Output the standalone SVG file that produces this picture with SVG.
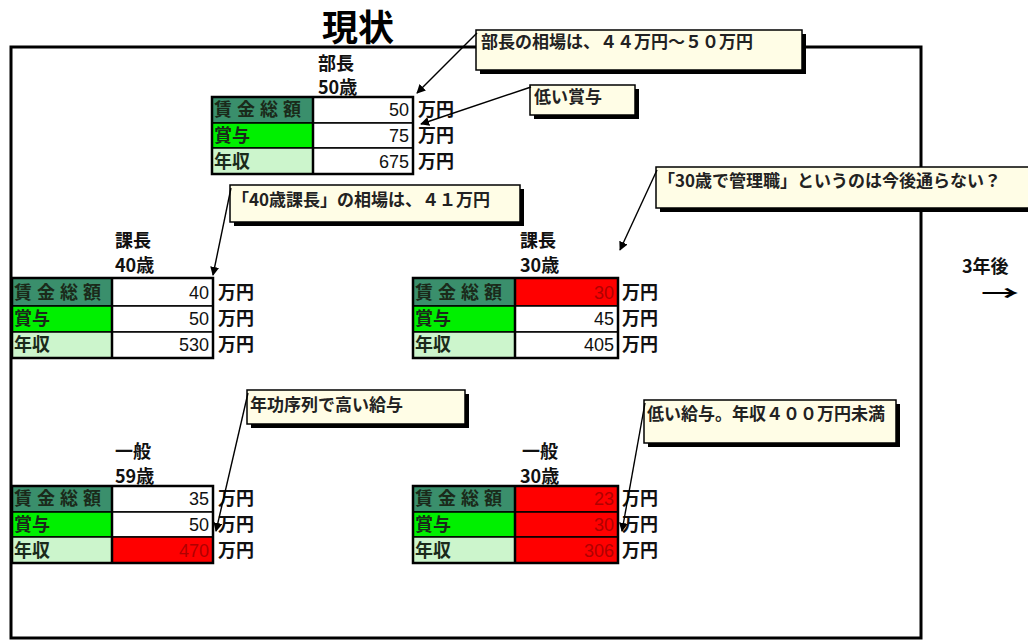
<svg xmlns="http://www.w3.org/2000/svg" width="1028" height="641" viewBox="0 0 1028 641">
<style>
.jp{font-family:"Noto Sans CJK JP","Noto Sans",sans-serif;}
.ttl{font-size:36px;font-weight:bold;fill:#000;}
.hd{font-size:18px;font-weight:bold;fill:#111;}
.lbl{font-size:18px;font-weight:bold;fill:#1a2a1a;}
.sp{letter-spacing:5px;}
.num{font-family:"Liberation Sans",Arial,sans-serif;font-size:18px;fill:#111;text-anchor:end;}
.numr{font-family:"Liberation Sans",Arial,sans-serif;font-size:18px;fill:#b00000;text-anchor:end;}
.unit{font-size:18px;font-weight:bold;fill:#111;}
.cl{font-size:17px;font-weight:bold;fill:#222;}
.c1{fill:#3a8f6c;}
.c2{fill:#00f000;}
.c3{fill:#ccf5cc;}
.cw{fill:#fff;}
.cr{fill:#ff0000;}
.cell{stroke:#000;stroke-width:1.5;}
.outer{fill:none;stroke:#000;stroke-width:2.5;}
.box{fill:#fffde6;stroke:#000;stroke-width:1.5;}
.shadow{fill:#000;}
.ptr{stroke:#000;stroke-width:1.4;fill:none;marker-end:url(#ah);}
</style>
<defs>
<marker id="ah" viewBox="0 0 10 10" refX="9" refY="5" markerWidth="9" markerHeight="9" markerUnits="userSpaceOnUse" orient="auto">
<path d="M0,0 L10,5 L0,10 z" fill="#000"/>
</marker>
</defs>
<rect width="1028" height="641" fill="#fff"/>
<g id="title"><text class="jp ttl" x="322" y="41">現状</text></g>
<g id="frame"><rect x="11" y="47" width="910" height="591" fill="#fff" stroke="#000" stroke-width="3"/></g>

<g id="node-bucho50">
<text class="jp hd" x="318" y="70">部長</text>
<text class="jp hd" x="318" y="94">50歳</text>
<rect class="cell c1" x="212" y="97" width="101" height="26"/>
<rect class="cell cw" x="313" y="97" width="100" height="26"/>
<rect class="cell c2" x="212" y="123" width="101" height="25"/>
<rect class="cell cw" x="313" y="123" width="100" height="25"/>
<rect class="cell c3" x="212" y="148" width="101" height="26"/>
<rect class="cell cw" x="313" y="148" width="100" height="26"/>
<rect class="outer" x="212" y="97" width="201" height="77"/>
<line x1="313" y1="97" x2="313" y2="174" stroke="#000" stroke-width="2.5"/>
<text class="jp lbl sp" x="214" y="116">賃金総額</text>
<text class="jp lbl" x="214" y="142">賞与</text>
<text class="jp lbl" x="214" y="168">年収</text>
<text class="num" x="409" y="116">50</text>
<text class="num" x="409" y="142">75</text>
<text class="num" x="409" y="168">675</text>
<text class="jp unit" x="418" y="116">万円</text>
<text class="jp unit" x="418" y="142">万円</text>
<text class="jp unit" x="418" y="168">万円</text>
</g>

<g id="node-kacho40">
<text class="jp hd" x="115" y="247">課長</text>
<text class="jp hd" x="115" y="272">40歳</text>
<rect class="cell c1" x="12" y="278" width="100" height="28"/>
<rect class="cell cw" x="112" y="278" width="101" height="28"/>
<rect class="cell c2" x="12" y="306" width="100" height="26"/>
<rect class="cell cw" x="112" y="306" width="101" height="26"/>
<rect class="cell c3" x="12" y="332" width="100" height="26"/>
<rect class="cell cw" x="112" y="332" width="101" height="26"/>
<rect class="outer" x="12" y="278" width="201" height="80"/>
<line x1="112" y1="278" x2="112" y2="358" stroke="#000" stroke-width="2.5"/>
<text class="jp lbl sp" x="14" y="299">賃金総額</text>
<text class="jp lbl" x="14" y="325">賞与</text>
<text class="jp lbl" x="14" y="351">年収</text>
<text class="num" x="209" y="299">40</text>
<text class="num" x="209" y="325">50</text>
<text class="num" x="209" y="351">530</text>
<text class="jp unit" x="218" y="299">万円</text>
<text class="jp unit" x="218" y="325">万円</text>
<text class="jp unit" x="218" y="351">万円</text>
</g>

<g id="node-kacho30">
<text class="jp hd" x="520" y="247">課長</text>
<text class="jp hd" x="520" y="272">30歳</text>
<rect class="cell c1" x="413" y="278" width="102" height="28"/>
<rect class="cell cr" x="515" y="278" width="103" height="28"/>
<rect class="cell c2" x="413" y="306" width="102" height="26"/>
<rect class="cell cw" x="515" y="306" width="103" height="26"/>
<rect class="cell c3" x="413" y="332" width="102" height="26"/>
<rect class="cell cw" x="515" y="332" width="103" height="26"/>
<rect class="outer" x="413" y="278" width="205" height="80"/>
<line x1="515" y1="278" x2="515" y2="358" stroke="#000" stroke-width="2.5"/>
<text class="jp lbl sp" x="415" y="299">賃金総額</text>
<text class="jp lbl" x="415" y="325">賞与</text>
<text class="jp lbl" x="415" y="351">年収</text>
<text class="numr" x="614" y="299">30</text>
<text class="num" x="614" y="325">45</text>
<text class="num" x="614" y="351">405</text>
<text class="jp unit" x="622" y="299">万円</text>
<text class="jp unit" x="622" y="325">万円</text>
<text class="jp unit" x="622" y="351">万円</text>
</g>

<g id="node-ippan59">
<text class="jp hd" x="115" y="458">一般</text>
<text class="jp hd" x="115" y="483">59歳</text>
<rect class="cell c1" x="12" y="486" width="100" height="26"/>
<rect class="cell cw" x="112" y="486" width="101" height="26"/>
<rect class="cell c2" x="12" y="512" width="100" height="25"/>
<rect class="cell cw" x="112" y="512" width="101" height="25"/>
<rect class="cell c3" x="12" y="537" width="100" height="26"/>
<rect class="cell cr" x="112" y="537" width="101" height="26"/>
<rect class="outer" x="12" y="486" width="201" height="77"/>
<line x1="112" y1="486" x2="112" y2="563" stroke="#000" stroke-width="2.5"/>
<text class="jp lbl sp" x="14" y="505">賃金総額</text>
<text class="jp lbl" x="14" y="531">賞与</text>
<text class="jp lbl" x="14" y="557">年収</text>
<text class="num" x="209" y="505">35</text>
<text class="num" x="209" y="531">50</text>
<text class="numr" x="209" y="557">470</text>
<text class="jp unit" x="218" y="505">万円</text>
<text class="jp unit" x="218" y="531">万円</text>
<text class="jp unit" x="218" y="557">万円</text>
</g>

<g id="node-ippan30">
<text class="jp hd" x="522" y="458">一般</text>
<text class="jp hd" x="520" y="483">30歳</text>
<rect class="cell c1" x="413" y="486" width="102" height="26"/>
<rect class="cell cr" x="515" y="486" width="103" height="26"/>
<rect class="cell c2" x="413" y="512" width="102" height="25"/>
<rect class="cell cr" x="515" y="512" width="103" height="25"/>
<rect class="cell c3" x="413" y="537" width="102" height="26"/>
<rect class="cell cr" x="515" y="537" width="103" height="26"/>
<rect class="outer" x="413" y="486" width="205" height="77"/>
<line x1="515" y1="486" x2="515" y2="563" stroke="#000" stroke-width="2.5"/>
<text class="jp lbl sp" x="415" y="505">賃金総額</text>
<text class="jp lbl" x="415" y="531">賞与</text>
<text class="jp lbl" x="415" y="557">年収</text>
<text class="numr" x="614" y="505">23</text>
<text class="numr" x="614" y="531">30</text>
<text class="numr" x="614" y="557">306</text>
<text class="jp unit" x="622" y="505">万円</text>
<text class="jp unit" x="622" y="531">万円</text>
<text class="jp unit" x="622" y="557">万円</text>
</g>

<g id="node-3years">
<text class="jp hd" x="962" y="273">3年後</text>
<text class="jp" transform="translate(1019,301) scale(1.9,1)" font-size="20" font-weight="bold" text-anchor="end">→</text>
</g>

<g id="callout-bucho">
<rect class="shadow" x="480" y="34" width="326" height="40"/>
<rect class="box" x="476" y="30" width="326" height="40"/>
<text class="jp cl" x="481" y="48">部長の相場は、４４万円～５０万円</text>
</g>
<g id="callout-shoyo">
<rect class="shadow" x="534" y="89" width="105" height="30"/>
<rect class="box" x="530" y="85" width="105" height="30"/>
<text class="jp cl" x="534" y="103">低い賞与</text>
</g>
<g id="callout-kacho40">
<rect class="shadow" x="234" y="189" width="290" height="37"/>
<rect class="box" x="230" y="185" width="290" height="37"/>
<text class="jp cl" x="232" y="206">「40歳課長」の相場は、４１万円</text>
</g>
<g id="callout-kacho30">
<rect class="shadow" x="660" y="171" width="380" height="41"/>
<rect class="box" x="656" y="167" width="380" height="41"/>
<text class="jp cl" x="658" y="187">「30歳で管理職」というのは今後通らない？</text>
</g>
<g id="callout-nenko">
<rect class="shadow" x="251" y="394" width="218" height="34"/>
<rect class="box" x="247" y="390" width="218" height="34"/>
<text class="jp cl" x="250" y="411">年功序列で高い給与</text>
</g>
<g id="callout-ippan30">
<rect class="shadow" x="648" y="404" width="252" height="43"/>
<rect class="box" x="644" y="400" width="252" height="43"/>
<text class="jp cl" x="647" y="420">低い給与。年収４００万円未満</text>
</g>

<g id="connectors">
<line class="ptr" x1="477" y1="33" x2="417" y2="93"/>
<line class="ptr" x1="531" y1="87" x2="421" y2="124"/>
<line class="ptr" x1="231" y1="188" x2="213" y2="275"/>
<line class="ptr" x1="657" y1="170" x2="620" y2="250"/>
<line class="ptr" x1="248" y1="393" x2="216" y2="531"/>
<line class="ptr" x1="645" y1="403" x2="622" y2="531"/>
</g>
</svg>
